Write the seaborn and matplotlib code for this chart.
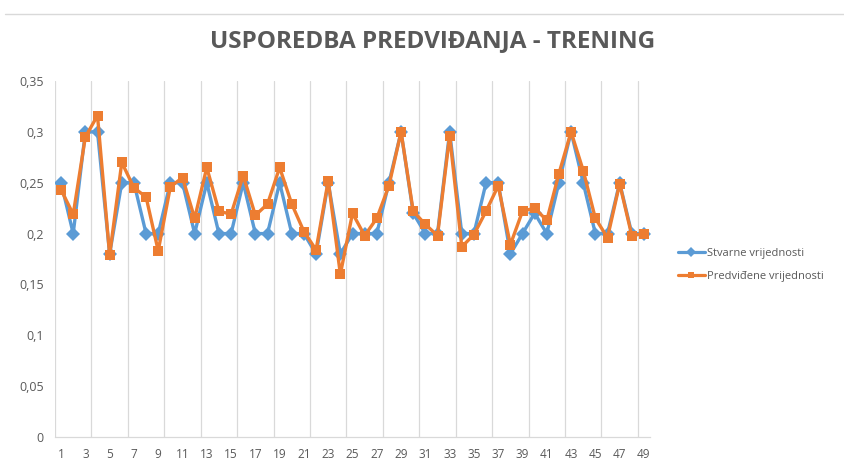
import numpy as np
import pandas as pd
import seaborn as sns
import matplotlib
matplotlib.use('Agg')
from matplotlib import pyplot as plt
from matplotlib.lines import Line2D

# Values
index = list(range(1, 50))
stvarne = [0.25, 0.20, 0.30, 0.30, 0.18, 0.25, 0.25, 0.20, 0.20, 0.25,
           0.25, 0.20, 0.25, 0.20, 0.20, 0.25, 0.20, 0.20, 0.25, 0.20,
           0.20, 0.18, 0.25, 0.18, 0.20, 0.20, 0.20, 0.25, 0.30, 0.22,
           0.20, 0.20, 0.30, 0.20, 0.20, 0.25, 0.25, 0.18, 0.20, 0.22,
           0.20, 0.25, 0.30, 0.25, 0.20, 0.20, 0.25, 0.20, 0.20]
predvidjene = [0.243, 0.219, 0.295, 0.316, 0.179, 0.270, 0.245, 0.236, 0.183, 0.246,
               0.255, 0.215, 0.265, 0.222, 0.219, 0.257, 0.218, 0.229, 0.265, 0.229,
               0.202, 0.184, 0.252, 0.160, 0.220, 0.198, 0.215, 0.247, 0.300, 0.222,
               0.209, 0.198, 0.296, 0.187, 0.199, 0.222, 0.247, 0.189, 0.222, 0.225,
               0.213, 0.259, 0.300, 0.262, 0.215, 0.196, 0.249, 0.198, 0.200]
series_names = ['Stvarne vrijednosti', 'Predviđene vrijednosti']
title = 'USPOREDBA PREDVIĐANJA - TRENING'
y_ticks = [0, 0.05, 0.1, 0.15, 0.2, 0.25, 0.3, 0.35]
x_ticks = list(range(1, 50, 2))

df = pd.DataFrame({
	'idx': index * 2,
	'value': stvarne + predvidjene,
	'serija': [series_names[0]] * len(index) + [series_names[1]] * len(index),
})

sns.set_style('white')
plt.rcParams['font.family'] = ['Open Sans', 'DejaVu Sans']

txt_color = '#595959'
grid_color = '#d9d9d9'
palette = {series_names[0]: '#5B9BD5', series_names[1]: '#ED7D31'}
markers = {series_names[0]: 'D', series_names[1]: 's'}

fig = plt.figure(figsize=(8.44, 4.65), dpi=100)
ax = fig.add_axes([55 / 844, 1 - 437 / 465, 595 / 844, 356 / 465])

sns.lineplot(data=df, x='idx', y='value', hue='serija', style='serija',
	palette=palette, markers=markers, dashes=False, linewidth=2.4,
	markersize=7, markeredgewidth=0, ax=ax, legend=False)

# vertical gridlines every 3 categories
for g in np.arange(0.5, 49.6, 3):
	ax.axvline(g, color=grid_color, linewidth=0.9, zorder=0)

ax.set_xlim(0.5, 49.5)
ax.set_ylim(0, 0.35)
ax.set_xticks(x_ticks)
ax.set_xticklabels([str(t) for t in x_ticks], fontsize=8.5, color=txt_color)
ax.set_yticks(y_ticks)
ax.set_yticklabels([('%g' % t).replace('.', ',') for t in y_ticks], fontsize=9, color=txt_color)
ax.tick_params(axis='both', length=0, pad=8)
ax.set_xlabel('')
ax.set_ylabel('')
for s in ['top', 'right', 'left']:
	ax.spines[s].set_visible(False)
ax.spines['bottom'].set_color(grid_color)
ax.spines['bottom'].set_linewidth(0.9)

# legend
handles = [Line2D([0], [0], color=palette[n], marker=markers[n], linewidth=2.3,
	markersize=5, markeredgewidth=0) for n in series_names]
fig.legend(handles, series_names, loc='center left', bbox_to_anchor=(668 / 844, 1 - 265 / 465),
	frameon=False, fontsize=8, labelcolor=txt_color, handlelength=2.4, handletextpad=0.2,
	labelspacing=1.1)

fig.text(433 / 844, 1 - 41 / 465, title, ha='center', va='center', fontsize=17.5,
	fontweight='bold', color=txt_color)

# top border line
fig.add_artist(Line2D([5 / 844, 1], [1 - 14 / 465, 1 - 14 / 465], color=grid_color, linewidth=1))

plt.savefig('out.png', dpi=100)
plt.close()
